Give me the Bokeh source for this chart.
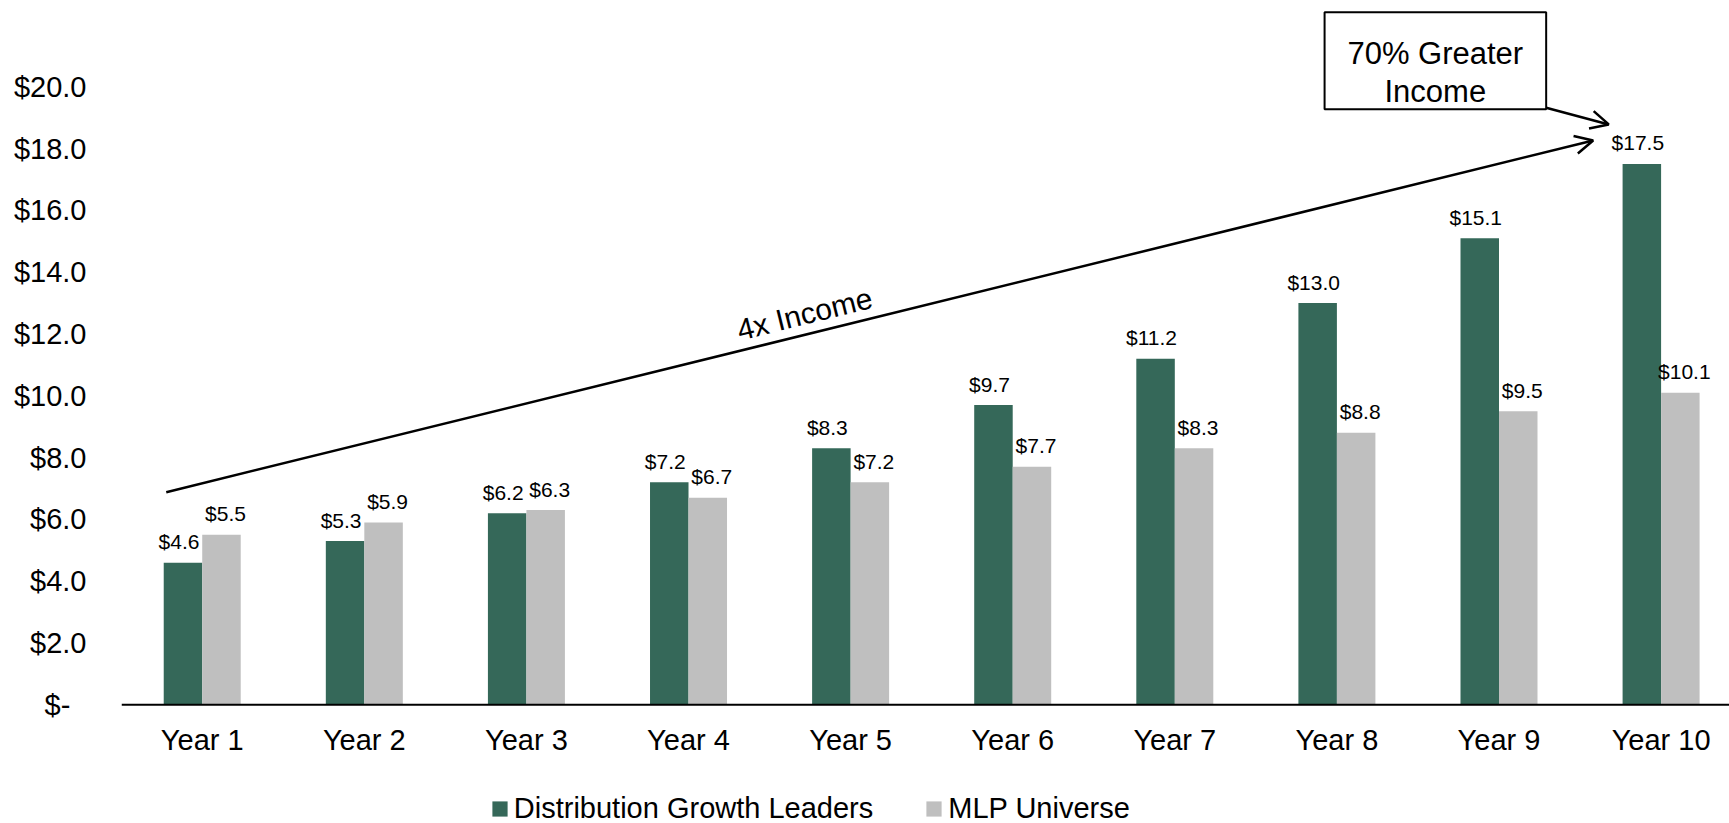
from bokeh.plotting import figure
from bokeh.models import (ColumnDataSource, Range1d, FixedTicker, Legend, LegendItem,
                          Arrow, OpenHead, BoxAnnotation, Label, Span)
from bokeh.transform import dodge
from bokeh.core.properties import value
from bokeh.embed import file_html
from bokeh.resources import INLINE

# ---- data ----
years = ["Year 1", "Year 2", "Year 3", "Year 4", "Year 5",
         "Year 6", "Year 7", "Year 8", "Year 9", "Year 10"]
leaders = [4.6, 5.3, 6.2, 7.2, 8.3, 9.7, 11.2, 13.0, 15.1, 17.5]
mlp = [5.5, 5.9, 6.3, 6.7, 7.2, 7.7, 8.3, 8.8, 9.5, 10.1]
series_names = ["Distribution Growth Leaders", "MLP Universe"]
y_ticks = [0, 2, 4, 6, 8, 10, 12, 14, 16, 18, 20]

FONT = "Liberation Sans"
GREEN = "#356859"
GRAY = "#BFBFBF"

pos = list(range(1, len(years) + 1))
src = ColumnDataSource(dict(
    x=pos, y0=[0] * len(pos), years=years, leaders=leaders, mlp=mlp,
    lab_l=[f"${v:.1f}" for v in leaders],
    lab_m=[f"${v:.1f}" for v in mlp],
))

p = figure(width=1729, height=823, output_backend="svg", toolbar_location=None,
           x_axis_location=None,
           x_range=Range1d(0.502, 10.422), y_range=Range1d(-3.84, 22.79),
           min_border_left=121, min_border_right=0, min_border_top=0,
           min_border_bottom=0)
p.outline_line_color = None
p.grid.visible = False
p.background_fill_color = "white"

bw = 0.2375
off = bw / 2
r1 = p.vbar(x=dodge("x", -off, range=p.x_range), top="leaders", width=bw,
            source=src, fill_color=GREEN, line_color=None)
r2 = p.vbar(x=dodge("x", off, range=p.x_range), top="mlp", width=bw,
            source=src, fill_color=GRAY, line_color=None)

p.text(x=dodge("x", -off, range=p.x_range), y="leaders", text="lab_l", source=src,
       text_font=value(FONT), text_font_size="21px", text_align="center",
       text_baseline="alphabetic", x_offset=-4, y_offset=-21, text_color="black")
p.text(x=dodge("x", off, range=p.x_range), y="mlp", text="lab_m", source=src,
       text_font=value(FONT), text_font_size="21px", text_align="center",
       text_baseline="alphabetic", x_offset=4, y_offset=-21, text_color="black")

# category axis (baseline line + year labels)
p.add_layout(Span(location=0, dimension="width", line_color="black", line_width=2))
p.text(x="x", y="y0", text="years", source=src, text_font=value(FONT),
       text_font_size="29px", text_align="center", text_baseline="alphabetic",
       y_offset=35, text_color="black")

ya = p.yaxis[0]
ya.ticker = FixedTicker(ticks=y_ticks)
ya.major_label_overrides = {t: (f"${t:.1f}" if t else "$-\u00a0\u00a0") for t in y_ticks}
ya.major_label_text_font = FONT
ya.major_label_text_font_size = "29px"
ya.major_label_text_color = "black"
ya.major_tick_line_color = None
ya.minor_tick_line_color = None
ya.major_tick_out = 0
ya.major_label_standoff = 35
ya.axis_line_color = None

# annotations
p.add_layout(Arrow(x_start=0.778, y_start=6.88, x_end=9.581, y_end=18.26,
                   line_width=2.5, line_color="black",
                   end=OpenHead(size=18, line_width=2.5, line_color="black")))
p.add_layout(Label(x=4.716, y=12.65, text="4x Income", angle=13.85, angle_units="deg",
                   text_font=FONT, text_font_size="30px", text_align="center",
                   text_baseline="alphabetic", text_color="black"))
p.add_layout(Arrow(x_start=9.291, y_start=19.32, x_end=9.677, y_end=18.78,
                   line_width=2.5, line_color="black",
                   end=OpenHead(size=18, line_width=2.5, line_color="black")))
p.add_layout(BoxAnnotation(left=7.924, right=9.291, top=22.41, bottom=19.27,
                           fill_color="white", fill_alpha=1.0,
                           line_color="black", line_width=2, line_alpha=1.0))
p.add_layout(Label(x=8.607, y=21.07, text="70% Greater", text_font=FONT,
                   text_font_size="31px", text_align="center",
                   text_baseline="alphabetic", text_color="black"))
p.add_layout(Label(x=8.607, y=19.86, text="Income", text_font=FONT,
                   text_font_size="31px", text_align="center",
                   text_baseline="alphabetic", text_color="black"))

legend = Legend(items=[LegendItem(label=series_names[0], renderers=[r1]),
                       LegendItem(label=series_names[1], renderers=[r2])],
                orientation="horizontal", location=(368.8, -2),
                label_text_font=FONT, label_text_font_size="29px",
                label_text_color="black", glyph_width=19, glyph_height=19,
                label_standoff=5, spacing=51, padding=0, margin=0,
                border_line_color=None, background_fill_alpha=0)
p.add_layout(legend, "center")

open("out.html", "w").write(file_html(p, INLINE))
